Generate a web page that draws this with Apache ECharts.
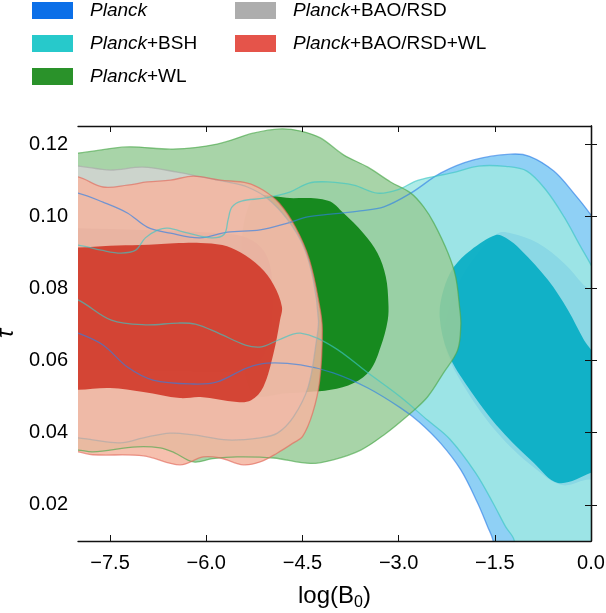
<!DOCTYPE html>
<html><head><meta charset="utf-8">
<script src="https://cdn.jsdelivr.net/npm/echarts@6/dist/echarts.min.js"></script>
<style>html,body{margin:0;padding:0;background:#fff}#c{width:606px;height:613px}</style>
</head><body><div id="c"></div>
<script>
// ---- data ----
const seriesNames = ['Planck', 'Planck+BSH', 'Planck+WL', 'Planck+BAO/RSD', 'Planck+BAO/RSD+WL'];
const xTicks = [-7.5, -6.0, -4.5, -3.0, -1.5, 0.0];
const yTicks = [0.02, 0.04, 0.06, 0.08, 0.10, 0.12];

// contour outlines, [log(B0), tau]
const planck95 = [[-8.3,0.107],[-8.0,0.1064],[-7.61,0.1039],[-7.23,0.1009],[-6.92,0.0970],[-6.56,0.0953],[-6.1,0.0940],[-5.67,0.0956],[-5.16,0.0962],[-4.73,0.0981],[-4.42,0.0998],[-4.06,0.1006],[-3.6,0.1015],[-3.23,0.1026],[-2.81,0.1064],[-2.34,0.1120],[-1.83,0.1156],[-1.25,0.1172],[-0.96,0.1166],[-0.58,0.1125],[-0.27,0.1064],[0.0,0.1003],[0.3,0.092],[0.3,0.0],[-1.45,0.0],[-1.53,0.0103],[-1.61,0.0139],[-1.77,0.0206],[-2.03,0.0297],[-2.34,0.0370],[-2.68,0.0430],[-2.97,0.0469],[-3.48,0.0524],[-4.02,0.0566],[-4.53,0.0588],[-5.05,0.0593],[-5.36,0.0580],[-5.83,0.0541],[-6.2,0.0535],[-6.83,0.0546],[-7.23,0.0582],[-7.61,0.0643],[-8.0,0.0676],[-8.3,0.069]];
const planck68 = [[-1.45,0.0953],[-1.25,0.0953],[-0.83,0.0926],[-0.42,0.0870],[-0.11,0.0809],[0.0,0.0795],[0.4,0.070],[0.4,0.024],[0.0,0.0270],[-0.45,0.0255],[-0.9,0.0305],[-1.45,0.0398],[-1.95,0.0520],[-2.28,0.0640],[-2.25,0.0720],[-2.05,0.0820],[-1.75,0.0900]];
const bsh95 = [[-8.3,0.092],[-8.0,0.0920],[-7.64,0.0906],[-7.33,0.0898],[-7.1,0.0906],[-6.95,0.0940],[-6.75,0.0962],[-6.6,0.0967],[-6.28,0.0953],[-5.92,0.0940],[-5.72,0.0950],[-5.66,0.0990],[-5.6,0.1025],[-5.45,0.1042],[-5.1,0.1050],[-4.7,0.1067],[-4.4,0.1092],[-4.1,0.1095],[-3.7,0.1086],[-3.33,0.1064],[-3.02,0.1073],[-2.69,0.1100],[-2.17,0.1120],[-1.75,0.1139],[-1.33,0.1138],[-1.0,0.1125],[-0.7,0.1072],[-0.42,0.0998],[-0.16,0.0915],[0.0,0.0865],[0.3,0.076],[0.3,0.0],[-1.12,0.0],[-1.2,0.0103],[-1.33,0.0139],[-1.53,0.0206],[-1.8,0.0289],[-2.2,0.0382],[-2.55,0.0435],[-2.97,0.0499],[-3.48,0.0566],[-4.02,0.0638],[-4.53,0.0676],[-4.875,0.0657],[-5.14,0.0638],[-5.39,0.0643],[-5.81,0.0676],[-6.17,0.0701],[-6.44,0.0704],[-6.95,0.0699],[-7.48,0.0712],[-8.0,0.0768],[-8.3,0.078]];
const bsh68 = [[-1.484,0.0948],[-1.33,0.0940],[-1.09,0.0906],[-0.67,0.0823],[-0.36,0.0740],[-0.11,0.0657],[0.0,0.063],[0.3,0.055],[0.3,0.032],[0.0,0.0289],[-0.516,0.0261],[-0.89,0.0316],[-1.41,0.0408],[-1.92,0.0527],[-2.23,0.0621],[-2.36,0.0721],[-2.30,0.0796],[-2.14,0.0859],[-1.875,0.0906]];
const wl95 = [[-8.3,0.1175],[-8.0,0.1175],[-7.23,0.1192],[-6.52,0.1186],[-5.83,0.1200],[-5.27,0.1230],[-4.84,0.1242],[-4.53,0.1236],[-4.22,0.1217],[-3.86,0.1170],[-3.48,0.1136],[-3.125,0.1095],[-2.81,0.1064],[-2.61,0.1026],[-2.45,0.0981],[-2.23,0.0898],[-2.11,0.0832],[-2.05,0.0749],[-2.03,0.0700],[-2.08,0.0629],[-2.30,0.0566],[-2.55,0.0499],[-2.81,0.0455],[-3.23,0.0394],[-3.59,0.0352],[-4.02,0.0325],[-4.375,0.0315],[-4.95,0.0330],[-5.52,0.0333],[-5.9,0.0328],[-6.2,0.0319],[-6.5,0.0345],[-6.72,0.0358],[-7.08,0.0361],[-7.77,0.0347],[-8.0,0.0352],[-8.3,0.0352]];
const wl68 = [[-5.3,0.1043],[-4.64,0.1050],[-4.1,0.1043],[-3.86,0.1009],[-3.55,0.0953],[-3.33,0.0898],[-3.2,0.0832],[-3.16,0.0760],[-3.17,0.0712],[-3.28,0.0638],[-3.44,0.0574],[-3.70,0.0538],[-4.06,0.0519],[-4.42,0.0513],[-4.70,0.0510],[-5.3,0.0512],[-5.45,0.078]];
const bao95 = [[-8.3,0.114],[-8.0,0.1139],[-7.5,0.1128],[-6.98,0.1136],[-6.45,0.1122],[-6.09,0.1109],[-5.67,0.1095],[-5.36,0.1081],[-5.05,0.1050],[-4.73,0.0990],[-4.48,0.0915],[-4.33,0.0823],[-4.25,0.0712],[-4.28,0.0657],[-4.41,0.0527],[-4.64,0.0444],[-4.89,0.0399],[-5.16,0.0386],[-5.67,0.0380],[-6.2,0.0394],[-6.56,0.0399],[-6.98,0.0386],[-7.34,0.0372],[-7.77,0.0380],[-8.0,0.0386],[-8.3,0.0386]];
const bao68 = [[-8.3,0.0968],[-8.0,0.0967],[-7.0,0.0962],[-6.0,0.0955],[-5.45,0.0945],[-5.15,0.0915],[-5.0,0.0860],[-4.97,0.0760],[-5.02,0.0660],[-5.2,0.0595],[-5.6,0.0570],[-6.5,0.0572],[-7.5,0.0574],[-8.0,0.0574],[-8.3,0.0574]];
const baowl95 = [[-8.3,0.111],[-8.0,0.1109],[-7.61,0.1081],[-7.23,0.1086],[-6.92,0.1095],[-6.56,0.1100],[-6.2,0.1111],[-5.78,0.1100],[-5.36,0.1092],[-5.11,0.1072],[-4.86,0.1036],[-4.61,0.0970],[-4.39,0.0879],[-4.23,0.0749],[-4.19,0.0685],[-4.23,0.0546],[-4.34,0.0455],[-4.5,0.0389],[-4.64,0.0372],[-4.89,0.0344],[-5.16,0.0319],[-5.42,0.0311],[-5.78,0.0330],[-6.05,0.0333],[-6.41,0.0311],[-6.98,0.0336],[-7.77,0.0339],[-8.0,0.0347],[-8.3,0.035]];
const baowl68 = [[-8.3,0.0913],[-8.0,0.0913],[-7.5,0.0918],[-7.03,0.0920],[-6.5,0.0925],[-6.09,0.0926],[-5.75,0.0920],[-5.47,0.0900],[-5.16,0.0859],[-4.95,0.0810],[-4.82,0.0749],[-4.85,0.0712],[-4.95,0.0621],[-5.11,0.0527],[-5.3,0.0490],[-5.52,0.0485],[-6.09,0.0499],[-6.41,0.0496],[-6.98,0.0513],[-7.5,0.0524],[-8.0,0.0519],[-8.3,0.0519]];

// ---- styles ----
const legendColors = ['#0b6fe8', '#27c9cb', '#2a922a', '#adadad', '#e5544a'];
const contours = [
  {name: seriesNames[0], outer: planck95, inner: planck68, f2: 'rgb(143,208,245)', a2: 1.0, f1: 'rgb(0,111,237)', a1: 0.85, line: '#2f80e6'},
  {name: seriesNames[1], outer: bsh95, inner: bsh68, f2: 'rgb(159,232,227)', a2: 0.85, f1: 'rgb(0,171,195)', a1: 0.88, line: '#3cc6c4'},
  {name: seriesNames[2], outer: wl95, inner: wl68, f2: 'rgb(153,204,153)', a2: 0.85, f1: 'rgb(4,128,12)', a1: 0.88, line: '#4aa84a'},
  {name: seriesNames[3], outer: bao95, inner: bao68, f2: 'rgb(210,212,210)', a2: 0.85, f1: 'rgb(165,165,165)', a1: 0.85, line: '#a9a9a9'},
  {name: seriesNames[4], outer: baowl95, inner: baowl68, f2: 'rgb(244,181,160)', a2: 0.85, f1: 'rgb(207,48,33)', a1: 0.85, line: '#e2685a'}
];
const FONT = 'Liberation Sans';

function polySeries(name, poly, style, z, color) {
  return {
    type: 'custom', name: name, coordinateSystem: 'cartesian2d', clip: true, silent: true,
    z: z, itemStyle: {color: color}, animation: false,
    data: poly,
    renderItem: function (params, api) {
      if (params.dataIndex !== 0) return null;
      const pts = poly.map(p => api.coord(p));
      return {type: 'polygon', shape: {points: pts, smooth: 0.35}, style: style};
    }
  };
}

const series = [];
contours.forEach((c, i) => {
  series.push(polySeries(c.name, c.outer, {fill: c.f2, opacity: c.a2, stroke: null}, 2, legendColors[i]));
  series.push(polySeries(c.name, c.inner, {fill: c.f1, opacity: c.a1, stroke: null}, 2, legendColors[i]));
});
contours.forEach((c, i) => {
  series.push(polySeries(c.name, c.outer, {fill: null, stroke: c.line, lineWidth: 1.3, opacity: 0.65}, 3, legendColors[i]));
});

function legendLabel(name) {
  const rest = name.slice('Planck'.length);
  return '{i|Planck}' + (rest ? '{n|' + rest + '}' : '');
}
const legendText = {
  padding: [0, 0, 0, 12],
  rich: {
    i: {fontFamily: FONT, fontSize: 19, fontStyle: 'italic', color: '#000', lineHeight: 17},
    n: {fontFamily: FONT, fontSize: 19, color: '#000', lineHeight: 17}
  }
};
function legendBlock(left, idxs) {
  return {
    left: left, top: 1, padding: 0, orient: 'vertical', icon: 'rect', itemWidth: 41, itemHeight: 17, itemGap: 14,
    selectedMode: false, formatter: legendLabel, textStyle: legendText,
    data: idxs.map(i => ({name: seriesNames[i], itemStyle: {color: legendColors[i], opacity: 1}}))
  };
}

const axisLineStyle = {lineStyle: {color: '#111', width: 1.3}};
const option = {
  backgroundColor: '#fff',
  animation: false,
  legend: [legendBlock(32, [0, 1, 2]), legendBlock(235, [3, 4])],
  grid: {left: 78, right: 15, top: 126, bottom: 72, containLabel: false, outerBoundsMode: 'none'},
  xAxis: [
    {type: 'value', min: -8, max: 0, z: 10, position: 'bottom',
     axisLine: axisLineStyle, splitLine: {show: false},
     axisTick: {inside: true, length: 6, customValues: xTicks, lineStyle: {color: '#111'}},
     axisLabel: {customValues: xTicks, fontFamily: FONT, fontSize: 20, color: '#000', margin: 12,
       formatter: v => (v < 0 ? '\u2212' : '') + Math.abs(v).toFixed(1)},
     name: '{n|log(B}{s|0}{n|)}', nameLocation: 'middle', nameGap: 40,
     nameTextStyle: {rich: {
       n: {fontFamily: FONT, fontSize: 24, color: '#000', lineHeight: 30},
       s: {fontFamily: FONT, fontSize: 16, color: '#000', lineHeight: 16, verticalAlign: 'bottom'}
     }}},
    {type: 'value', min: -8, max: 0, z: 10, position: 'top',
     axisLine: axisLineStyle, splitLine: {show: false},
     axisTick: {inside: true, length: 6, customValues: xTicks, lineStyle: {color: '#111'}},
     axisLabel: {show: false}}
  ],
  yAxis: [
    {type: 'value', min: 0.01, max: 0.125, z: 10, position: 'left',
     axisLine: axisLineStyle, splitLine: {show: false},
     axisTick: {inside: true, length: 6, customValues: yTicks, lineStyle: {color: '#111'}},
     axisLabel: {customValues: yTicks, fontFamily: FONT, fontSize: 20, color: '#000', margin: 10,
       formatter: v => v.toFixed(2)},
     name: 'τ', nameLocation: 'middle', nameGap: 52,
     nameTextStyle: {fontFamily: FONT, fontSize: 24, fontStyle: 'italic', color: '#000'}},
    {type: 'value', min: 0.01, max: 0.125, z: 10, position: 'right',
     axisLine: axisLineStyle, splitLine: {show: false},
     axisTick: {inside: true, length: 6, customValues: yTicks, lineStyle: {color: '#111'}},
     axisLabel: {show: false}}
  ],
  series: series
};
const chart = echarts.init(document.getElementById('c'), null, {renderer: 'canvas'});
chart.setOption(option);
</script></body></html>
